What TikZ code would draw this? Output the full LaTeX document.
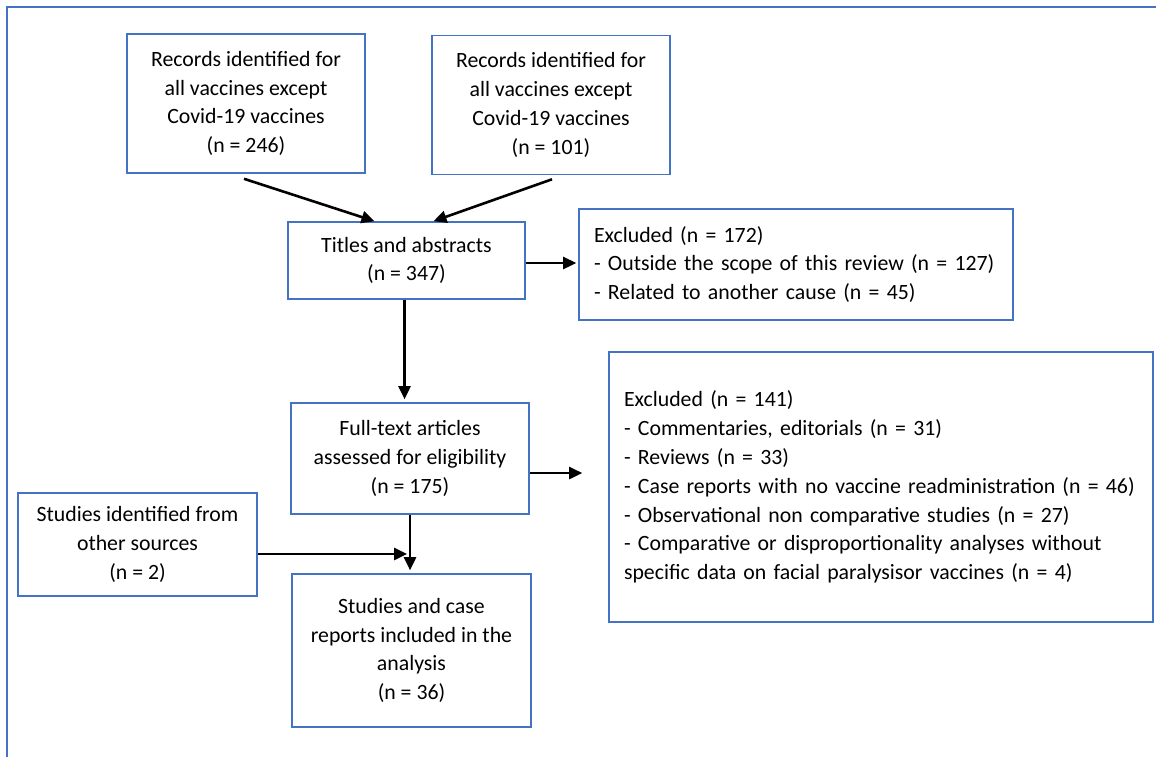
\documentclass[tikz,border=0pt]{standalone}
\usepackage{fontspec}
\setmainfont{Carlito}
\usetikzlibrary{arrows.meta}
\definecolor{boxblue}{RGB}{68,114,196}

\begin{document}
\begin{tikzpicture}[x=1pt, y=-1pt,
    font=\fontsize{21.8}{28.8}\selectfont,
    box/.style={draw=boxblue, line width=1.6pt, align=center, inner sep=0pt},
    listbox/.style={draw=boxblue, line width=1.6pt, align=left, inner xsep=15pt, inner ysep=0pt},
    arrow/.style={line width=2.6pt, -{Triangle[length=13pt, width=12pt]}}]
    \useasboundingbox (0,0) rectangle (1156,757);

    % Frame
    \draw[boxblue, line width=1.6pt] (7,757) -- (7,7) -- (1156,7);

    % Nodes
    \node[box, minimum width=238pt, minimum height=139pt] (recA) at (246,103.5)
        {Records identified for\\all vaccines except\\Covid-19 vaccines\\(n = 246)};
    \node[box, minimum width=238pt, minimum height=139pt] (recB) at (551,105)
        {Records identified for\\all vaccines except\\Covid-19 vaccines\\(n = 101)};
    \node[box, minimum width=237pt, minimum height=77pt] (titles) at (406.5,260.5)
        {Titles and abstracts\\(n = 347)};
    \node[listbox, text width=404pt, minimum height=111pt] (excl1) at (796,264.5)
        {Excluded (n = 172)\\- Outside the scope of this review (n = 127)\\- Related to another cause (n = 45)};
    \node[box, minimum width=238pt, minimum height=111pt] (fulltext) at (410,458.5)
        {Full-text articles\\assessed for eligibility\\(n = 175)};
    \node[listbox, text width=514pt, minimum height=270pt] (excl2) at (881,487)
        {Excluded (n = 141)\\- Commentaries, editorials (n = 31)\\- Reviews (n = 33)\\- Case reports with no vaccine readministration (n = 46)\\- Observational non comparative studies (n = 27)\\- Comparative or disproportionality analyses without\\specific data on facial paralysisor vaccines (n = 4)};
    \node[box, minimum width=239pt, minimum height=103pt] (other) at (137.5,544.5)
        {Studies identified from\\other sources\\(n = 2)};
    \node[box, minimum width=239pt, minimum height=153pt] (included) at (411.5,650.5)
        {Studies and case\\reports included in the\\analysis\\(n = 36)};

    % Edges
    \draw[arrow] ([xshift=-2pt, yshift=-5pt]recA.south) -- ([xshift=-32pt]titles.north);
    \draw[arrow] ([xshift=1pt, yshift=-4pt]recB.south) -- ([xshift=27pt]titles.north);
    \draw[arrow, shorten >=2pt] ([yshift=-2.5pt]titles.east) -- ([yshift=-2.5pt]titles.east -| excl1.west);
    \draw[arrow, shorten >=3pt] ([xshift=-2pt]titles.south) -- ([xshift=-2pt]titles.south |- fulltext.north);
    \draw[arrow, shorten >=26pt] ([yshift=-14.5pt]fulltext.east) -- ([yshift=-14.5pt]fulltext.east -| excl2.west);
    \draw[arrow, shorten >=3pt] (fulltext.south) -- (fulltext.south |- included.north);
    \draw[arrow, shorten >=3pt] ([yshift=-9.5pt]other.east) -- ([yshift=-9.5pt]other.east -| fulltext.south);
\end{tikzpicture}
\end{document}
